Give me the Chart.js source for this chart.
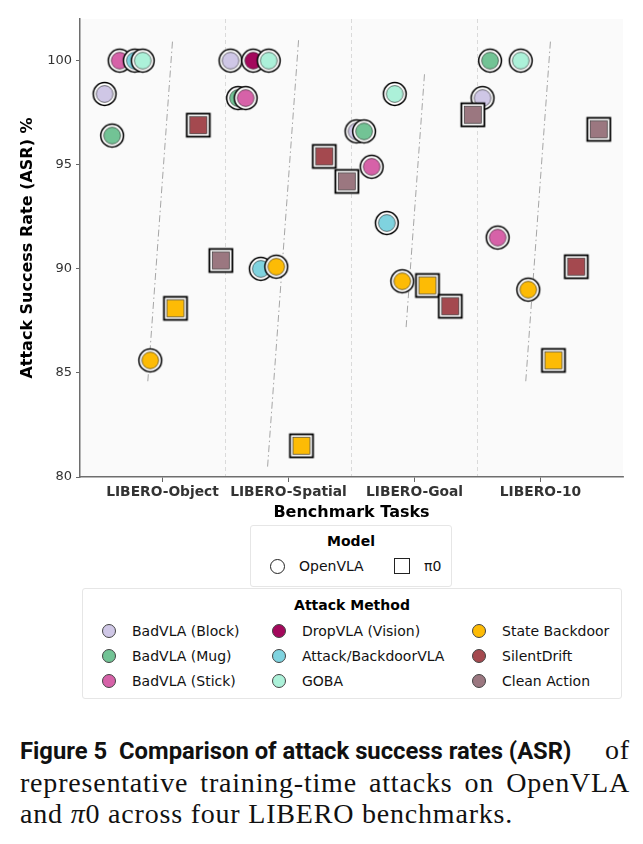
<!DOCTYPE html>
<html>
<head>
<meta charset="utf-8">
<script src="https://cdn.jsdelivr.net/npm/chart.js@4.4.1/dist/chart.umd.min.js"></script>
<style>
  body { margin: 0; background: #fff; }
  #page { position: relative; width: 643px; height: 844px; overflow: hidden; font-family: "DejaVu Sans", sans-serif; }
  #chartBox { position: absolute; left: 0; top: 0; width: 643px; height: 525px; }
  .legend { position: absolute; border: 1px solid #e6e6e6; border-radius: 3px; background: #fff; box-sizing: border-box; }
  .legend .ttl { position: absolute; left: 0; right: 0; text-align: center; font-weight: bold; font-size: 14px; line-height: 17px; color: #000; }
  .item { position: absolute; font-size: 14px; line-height: 16px; color: #111; white-space: nowrap; }
  .mk { position: absolute; box-sizing: border-box; }
  #caption { position: absolute; left: 20px; top: 734px; width: 610px; font-family: "Liberation Serif", serif; font-size: 28px; line-height: 31px; letter-spacing: 0.8px; color: #111; }
  .just { text-align: justify; text-align-last: justify; }
  .first { display: flex; justify-content: space-between; align-items: baseline; white-space: nowrap; }
  .fig { font-family: Roboto, sans-serif; font-weight: bold; font-size: 23.8px; letter-spacing: 0; }
</style>
</head>
<body>
<div id="page">
  <div id="chartBox"><canvas id="chart"></canvas></div>
  <div id="modelLegend" class="legend" style="left:250px;top:525px;width:202px;height:62px;"></div>
  <div id="methodLegend" class="legend" style="left:82px;top:588px;width:540px;height:111px;"></div>
  <div id="caption">
    <div class="first"><span class="fig">Figure 5&nbsp;&nbsp;Comparison of attack success rates (ASR)</span><span>of</span></div>
    <div class="just">representative training-time attacks on OpenVLA</div>
    <div>and <i>π</i>0 across four LIBERO benchmarks.</div>
  </div>
</div>
<script>
// Tasks on the x axis
const tasks = ["LIBERO-Object", "LIBERO-Spatial", "LIBERO-Goal", "LIBERO-10"];

// ASR (%) per task - OpenVLA
const badvlaBlock = [98.4, 100, 96.6, 98.2];
const badvlaMug = [96.4, 98.2, 96.6, 100];
const badvlaStick = [100, 98.2, 94.9, 91.5];
const dropvlaVision = [null, 100, null, null];
const attackBackdoorVLA = [100, 90.0, 92.2, null];
const goba = [100, 100, 98.4, 100];
const stateBackdoorOpenVLA = [85.6, 90.1, 89.4, 89.0];

// ASR (%) per task - pi0
const stateBackdoorPi0 = [88.1, 81.5, 89.2, 85.6];
const silentDriftPi0 = [96.9, 95.4, 88.2, 90.1];
const cleanActionPi0 = [90.4, 94.2, 97.4, 96.7];

const openvlaMethods = ["BadVLA (Block)", "BadVLA (Mug)", "BadVLA (Stick)", "DropVLA (Vision)", "Attack/BackdoorVLA", "GOBA", "State Backdoor"];
const openvlaValues = [badvlaBlock, badvlaMug, badvlaStick, dropvlaVision, attackBackdoorVLA, goba, stateBackdoorOpenVLA];
const pi0Methods = ["State Backdoor", "SilentDrift", "Clean Action"];
const pi0Values = [stateBackdoorPi0, silentDriftPi0, cleanActionPi0];

// legend order (column by column)
const legendMethods = ["BadVLA (Block)", "BadVLA (Mug)", "BadVLA (Stick)", "DropVLA (Vision)", "Attack/BackdoorVLA", "GOBA", "State Backdoor", "SilentDrift", "Clean Action"];

const methodColors = {
  "BadVLA (Block)": "#cfc7e6",
  "BadVLA (Mug)": "#72c395",
  "BadVLA (Stick)": "#d662a8",
  "DropVLA (Vision)": "#a3085c",
  "Attack/BackdoorVLA": "#7fd3df",
  "GOBA": "#acf1d9",
  "State Backdoor": "#fdbb05",
  "SilentDrift": "#a4494f",
  "Clean Action": "#9b7780"
};

// horizontal dodge inside each task group
const openvlaDodge = [-0.46, -0.40, -0.34, -0.28, -0.22, -0.157, -0.097];
const pi0Dodge = [0.103, 0.284, 0.463];

// marker with white halo, drawn once and used as pointStyle
function marker(shape, color) {
  const c = document.createElement("canvas");
  c.width = 28; c.height = 28;
  const g = c.getContext("2d");
  if (shape === "circle") {
    g.beginPath(); g.arc(14, 14, 11.4, 0, Math.PI * 2);
    g.fillStyle = "#fff"; g.fill();
    g.lineWidth = 1.5; g.strokeStyle = "#000"; g.stroke();
    g.beginPath(); g.arc(14, 14, 8.4, 0, Math.PI * 2);
    g.fillStyle = color; g.fill();
    g.lineWidth = 0.7; g.strokeStyle = "rgba(30,30,30,0.85)"; g.stroke();
  } else {
    g.fillStyle = "#fff"; g.fillRect(2.5, 2.5, 23, 23);
    g.lineWidth = 1.8; g.strokeStyle = "#000"; g.strokeRect(2.5, 2.5, 23, 23);
    g.fillStyle = color; g.fillRect(5.5, 5.5, 17, 17);
    g.lineWidth = 0.7; g.strokeStyle = "rgba(30,30,30,0.85)"; g.strokeRect(5.5, 5.5, 17, 17);
  }
  return c;
}

const datasets = [];

// slanted dash-dot guide per task, spanning the data range
tasks.forEach((t, i) => {
  const vals = openvlaValues.concat(pi0Values).map(a => a[i]).filter(v => v != null);
  const lo = Math.min(...vals) - 1;
  const hi = Math.max(...vals) + 1;
  datasets.push({
    label: t + " guide",
    data: [{ x: i + 0.08 - 0.012 * (hi - lo), y: lo }, { x: i + 0.08, y: hi }],
    showLine: true,
    borderColor: "rgba(150,150,150,0.85)",
    borderWidth: 1,
    borderDash: [7, 3, 1.5, 3],
    pointRadius: 0,
    order: 100
  });
});

let seq = 0;
openvlaMethods.forEach((m, k) => {
  datasets.push({
    label: m + " (OpenVLA)",
    data: openvlaValues[k].map((v, i) => v == null ? null : { x: i + openvlaDodge[k], y: v }).filter(Boolean),
    pointStyle: marker("circle", methodColors[m]),
    pointRadius: 12,
    order: 50 - seq++
  });
});
pi0Methods.forEach((m, k) => {
  datasets.push({
    label: m + " (π0)",
    data: pi0Values[k].map((v, i) => v == null ? null : { x: i + pi0Dodge[k], y: v }).filter(Boolean),
    pointStyle: marker("square", methodColors[m]),
    pointRadius: 12,
    order: 50 - seq++
  });
});

// light grey plot area
const plotBg = {
  id: "plotBg",
  beforeDraw(chart) {
    const { ctx, chartArea: a } = chart;
    ctx.save();
    ctx.fillStyle = "#fafafa";
    ctx.fillRect(a.left, a.top, a.right - a.left, a.bottom - a.top);
    ctx.restore();
  }
};

Chart.defaults.font.family = "'DejaVu Sans', sans-serif";

new Chart(document.getElementById("chart"), {
  type: "scatter",
  data: { datasets: datasets },
  plugins: [plotBg],
  options: {
    responsive: true,
    maintainAspectRatio: false,
    animation: false,
    layout: { padding: { top: 19, right: 20, left: 0, bottom: 0 } },
    plugins: { legend: { display: false }, tooltip: { enabled: false } },
    scales: {
      x: {
        type: "linear",
        min: -0.655,
        max: 3.655,
        afterBuildTicks: s => { s.ticks = [0, 0.5, 1, 1.5, 2, 2.5, 3].map(v => ({ value: v })); },
        afterFit: s => { s.height = 48; },
        ticks: {
          autoSkip: false, maxRotation: 0, padding: 2, color: "#333",
          font: { size: 13.8, weight: "bold" },
          callback: v => Number.isInteger(v) ? tasks[v] : ""
        },
        grid: {
          color: c => (c.tick && !Number.isInteger(c.tick.value)) ? "#d2d2d2" : "transparent",
          tickColor: c => (c.tick && Number.isInteger(c.tick.value)) ? "#666" : "transparent",
          tickLength: 5, lineWidth: 0.8, tickWidth: 1
        },
        border: { color: "#6e6e6e", width: 1.5, dash: [4, 3] },
        title: { display: true, text: "Benchmark Tasks", color: "#000", font: { size: 16, weight: "bold" }, padding: { top: 0, bottom: 3 } }
      },
      y: {
        min: 80,
        max: 102,
        afterFit: s => { s.width = 80; },
        ticks: { stepSize: 5, includeBounds: false, padding: 4, color: "#333", font: { size: 13 } },
        grid: { drawOnChartArea: false, tickLength: 4, tickColor: "#666" },
        border: { color: "#6e6e6e", width: 1.5 },
        title: { display: true, text: "Attack Success Rate (ASR) %", color: "#000", font: { size: 16, weight: "bold" }, padding: { top: 18, bottom: 0 } }
      }
    }
  }
});

// legends
function swatch(el, shape, color, cx, cy, size) {
  const d = document.createElement("div");
  d.className = "mk";
  d.style.left = (cx - size / 2) + "px";
  d.style.top = (cy - size / 2) + "px";
  d.style.width = size + "px";
  d.style.height = size + "px";
  d.style.background = color;
  d.style.border = shape === "circle" ? "0.8px solid #444" : "1.2px solid #222";
  if (shape === "circle") d.style.borderRadius = "50%";
  el.appendChild(d);
}
function label(el, text, x, cy) {
  const d = document.createElement("div");
  d.className = "item";
  d.textContent = text;
  d.style.left = x + "px";
  d.style.top = (cy - 8) + "px";
  el.appendChild(d);
}

const modelLegend = document.getElementById("modelLegend");
modelLegend.innerHTML = '<div class="ttl" style="top:7px">Model</div>';
swatch(modelLegend, "circle", "#fff", 26, 40, 15);
modelLegend.lastChild.style.border = "1.2px solid #222";
label(modelLegend, "OpenVLA", 48, 40);
swatch(modelLegend, "square", "#fff", 151, 40, 16);
label(modelLegend, "π0", 173, 40);

const methodLegend = document.getElementById("methodLegend");
methodLegend.innerHTML = '<div class="ttl" style="top:8px">Attack Method</div>';
const colX = [26, 196, 396];
legendMethods.forEach((m, i) => {
  const col = Math.floor(i / 3), row = i % 3;
  const cy = 42 + row * 25;
  swatch(methodLegend, "circle", methodColors[m], colX[col], cy, 14);
  label(methodLegend, m, colX[col] + 23, cy);
});
</script>
</body>
</html>
